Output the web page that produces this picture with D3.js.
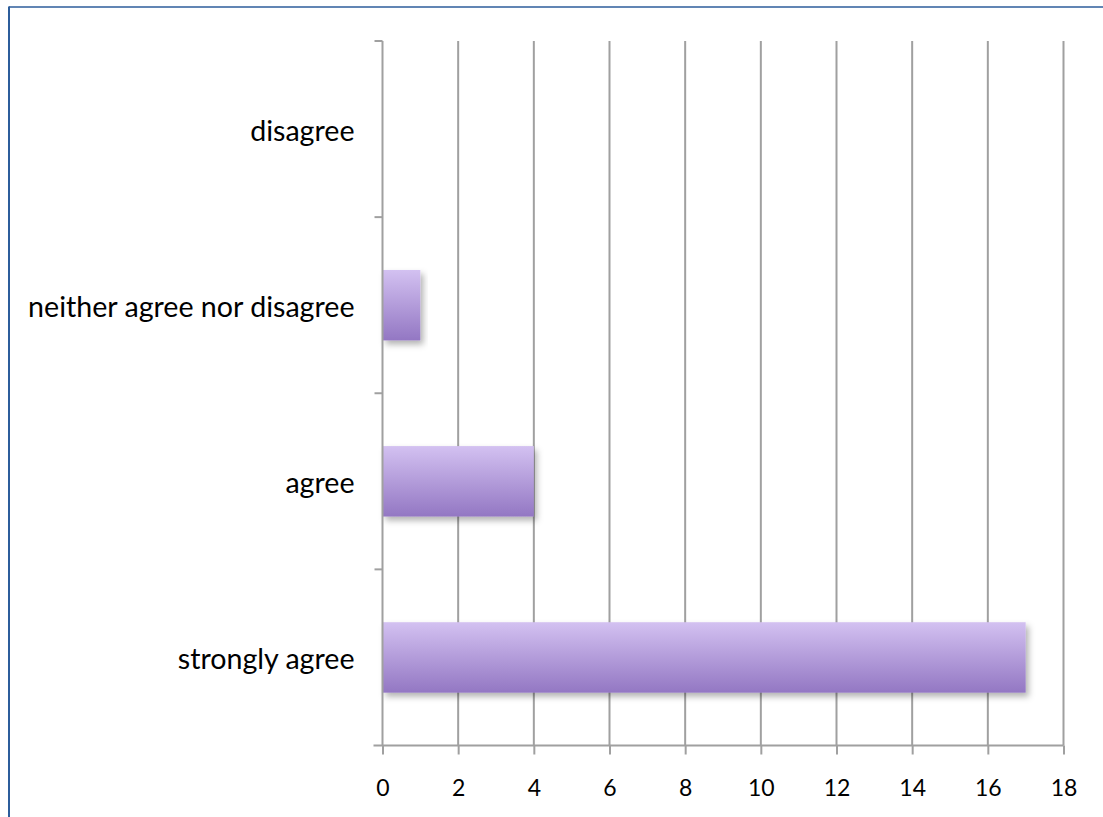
<!DOCTYPE html>
<html><head><meta charset="utf-8">
<script src="https://cdn.jsdelivr.net/npm/d3@7"></script>
<style>body{margin:0;background:#fff;} svg{display:block;}</style>
</head><body>
<svg id="chart" width="1103" height="817"></svg>
<script>
const categories = ["strongly agree", "agree", "neither agree nor disagree", "disagree"];
const values = [17, 4, 1, 0];
const xTicks = [0, 2, 4, 6, 8, 10, 12, 14, 16, 18];

const svg = d3.select("#chart");
const pLeft = 382.5, pRight = 1063.5, pTop = 41, pBottom = 745.5;
const font = "Lato, 'Open Sans', sans-serif";
const x = d3.scaleLinear().domain([0, 18]).range([pLeft, pRight]);
const y = d3.scaleBand().domain(categories).range([pBottom, pTop]).paddingInner(0.6).paddingOuter(0.3);
const yb = d3.scaleBand().domain(categories).range([pBottom, pTop]);

const defs = svg.append("defs");
const grad = defs.append("linearGradient").attr("id", "barGrad").attr("x1", 0).attr("y1", 0).attr("x2", 0).attr("y2", 1);
grad.append("stop").attr("offset", "0%").attr("stop-color", "#d3c1f1");
grad.append("stop").attr("offset", "100%").attr("stop-color", "#9377c3");
const f = defs.append("filter").attr("id", "shadow").attr("x", "-10%").attr("y", "-20%").attr("width", "130%").attr("height", "160%");
f.append("feDropShadow").attr("dx", 3).attr("dy", 4).attr("stdDeviation", 3).attr("flood-color", "#000").attr("flood-opacity", 0.3);

// frame
svg.append("line").attr("x1", 9).attr("x2", 1103).attr("y1", 7).attr("y2", 7).attr("stroke", "#2c5d9b").attr("stroke-width", 1.5);
svg.append("line").attr("x1", 9).attr("x2", 9).attr("y1", 6.5).attr("y2", 817).attr("stroke", "#2c5d9b").attr("stroke-width", 2);

// gridlines
svg.append("g").selectAll("line").data(xTicks.slice(1)).join("line")
  .attr("x1", d => x(d)).attr("x2", d => x(d)).attr("y1", pTop).attr("y2", pBottom)
  .attr("stroke", "#a0a0a0").attr("stroke-width", 2);

// bars
svg.append("g").selectAll("rect").data(values).join("rect")
  .attr("x", x(0)).attr("y", (d, i) => y(categories[i]))
  .attr("width", d => x(d) - x(0)).attr("height", y.bandwidth())
  .attr("fill", "url(#barGrad)").attr("filter", "url(#shadow)");

// x axis
const xAxis = svg.append("g").attr("transform", `translate(0,${pBottom})`)
  .call(d3.axisBottom(x).tickValues(xTicks).tickSize(9).tickPadding(25).tickSizeOuter(0));
xAxis.select(".domain").remove();
xAxis.append("line").attr("x1", pLeft - 9).attr("x2", pRight).attr("y1", 0).attr("y2", 0).attr("stroke", "#a0a0a0").attr("stroke-width", 2);
xAxis.selectAll(".tick line").attr("stroke", "#a0a0a0").attr("stroke-width", 2);
xAxis.selectAll(".tick text").attr("font-family", font).attr("font-size", 23).attr("fill", "#000");

// y axis
const yAxis = svg.append("g").attr("transform", `translate(${pLeft},0)`)
  .call(d3.axisLeft(yb).tickSize(0).tickPadding(28));
yAxis.select(".domain").remove();
yAxis.append("line").attr("x1", 0).attr("x2", 0).attr("y1", pTop).attr("y2", pBottom).attr("stroke", "#a0a0a0").attr("stroke-width", 2);
const bounds = [pTop].concat(categories.slice(1).map(c => yb(c) + yb.bandwidth()));
yAxis.selectAll(".ytick").data(bounds).join("line").attr("class", "ytick")
  .attr("x1", -8).attr("x2", 0).attr("y1", d => d).attr("y2", d => d)
  .attr("stroke", "#a0a0a0").attr("stroke-width", 2);
yAxis.selectAll(".tick text").attr("font-family", font).attr("font-size", 28.6).attr("dy", "0.4em").attr("fill", "#000");
</script>
</body></html>
